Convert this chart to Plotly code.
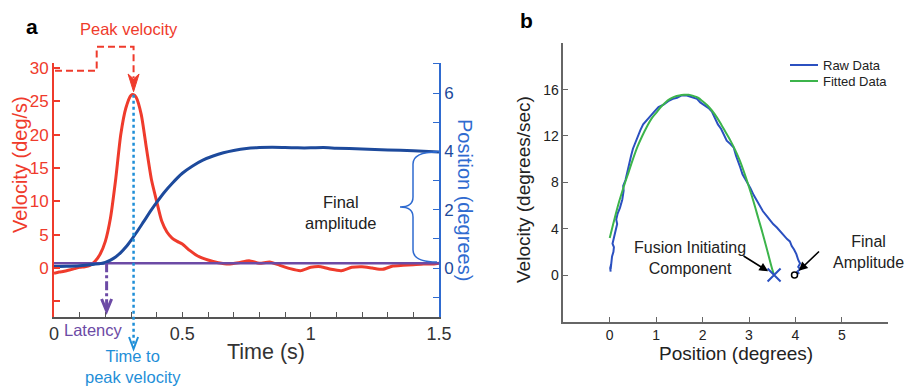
import plotly.graph_objects as go

# ---------------- data ----------------
# Panel a : velocity trace (deg/s) vs time (s)
T_VEL = [0.00, 0.02, 0.04, 0.06, 0.08, 0.10, 0.12, 0.14, 0.16, 0.18, 0.20, 0.22, 0.24, 0.26,
         0.28, 0.30, 0.31, 0.32, 0.34, 0.36, 0.38, 0.40, 0.42, 0.44, 0.46, 0.48, 0.50, 0.53,
         0.56, 0.60, 0.64, 0.68, 0.72, 0.76, 0.80, 0.84, 0.88, 0.92, 0.96, 1.00, 1.04, 1.08,
         1.12, 1.16, 1.20, 1.24, 1.28, 1.32, 1.36, 1.40, 1.44, 1.48, 1.50]
VELOCITY = [-0.8, -0.6, -0.5, -0.3, -0.1, 0.1, 0.2, 0.4, 1.0, 2.1, 4.0, 7.5, 13.2, 20.0,
            24.0, 25.9, 26.0, 25.6, 23.0, 18.0, 13.2, 10.0, 7.0, 5.4, 4.5, 4.0, 3.6, 2.6,
            1.8, 1.2, 0.8, 0.6, 0.8, 1.1, 0.7, 0.9, 0.4, -0.1, -0.4, 0.1, 0.2, -0.2,
            -0.4, 0.1, 0.2, 0.0, -0.2, 0.3, 0.4, 0.5, 0.6, 0.6, 0.7]
# Panel a : position trace (degrees) vs time (s)
T_POS = [0.00, 0.05, 0.10, 0.15, 0.18, 0.20, 0.22, 0.24, 0.26, 0.28, 0.30, 0.32, 0.35, 0.38,
         0.40, 0.43, 0.46, 0.50, 0.54, 0.58, 0.62, 0.66, 0.70, 0.75, 0.80, 0.85, 0.90, 0.95,
         1.00, 1.05, 1.10, 1.20, 1.30, 1.40, 1.50]
POSITION = [0.05, 0.06, 0.08, 0.12, 0.15, 0.19, 0.27, 0.38, 0.53, 0.72, 0.95, 1.2, 1.6, 2.0,
            2.25, 2.6, 2.9, 3.25, 3.5, 3.7, 3.84, 3.95, 4.03, 4.1, 4.13, 4.14, 4.13, 4.12,
            4.12, 4.13, 4.11, 4.08, 4.05, 4.02, 3.98]
THRESHOLD_VEL = 0.7      # latency threshold line (deg/s)
LATENCY_T = 0.205        # s
TIME_SPAN = [0.0, 1.5]

A_X_TICKS = [0, 0.5, 1, 1.5]
A_X_LABELS = ["0", "0.5", "1", "1.5"]
A_V_TICKS = [-5, 0, 5, 10, 15, 20, 25, 30]
A_V_LABELS = ["", "0", "5", "10", "15", "20", "25", "30"]
A_P_TICKS = [0, 2, 4, 6]

# Panel b : phase plane
RAW_POS = [0.02, 0.01, 0.03, 0.02, 0.03, 0.05, 0.08, 0.09, 0.06, 0.10, 0.13, 0.16, 0.14, 0.17,
           0.22, 0.27, 0.30, 0.29, 0.34, 0.38, 0.42, 0.46, 0.50, 0.52, 0.57, 0.62, 0.66, 0.72,
           0.80, 0.88, 0.96, 1.05, 1.16, 1.26, 1.36, 1.45, 1.55, 1.66, 1.75, 1.82, 1.88, 1.95,
           2.05, 2.13, 2.20, 2.26, 2.33, 2.40, 2.45, 2.52, 2.60, 2.67, 2.72, 2.78, 2.81, 2.86,
           2.92, 2.97, 3.03, 3.10, 3.17, 3.24, 3.30, 3.38, 3.45, 3.52, 3.60, 3.68, 3.75, 3.82,
           3.88, 3.92, 3.97, 4.02, 4.06, 4.10, 4.06, 4.10, 4.04, 4.08]
RAW_VEL = [0.3, 0.6, 0.9, 0.5, 1.1, 1.6, 2.0, 2.4, 2.7, 3.3, 3.8, 4.4, 4.8, 5.3,
           5.8, 6.5, 7.3, 7.7, 8.2, 9.0, 9.6, 10.3, 10.9, 11.1, 11.6, 12.2, 12.5, 13.0,
           13.4, 13.7, 14.1, 14.5, 14.7, 15.0, 15.2, 15.3, 15.5, 15.5, 15.4, 15.3, 15.2, 14.9,
           14.6, 14.4, 14.1, 13.6, 13.0, 12.6, 12.2, 11.6, 11.3, 11.0, 10.3, 9.7, 9.3, 8.7,
           8.3, 7.9, 7.5, 6.9, 6.4, 5.9, 5.5, 5.1, 4.7, 4.4, 4.1, 3.7, 3.4, 3.1,
           2.9, 2.5, 2.2, 1.8, 1.3, 1.0, 0.7, 0.5, 0.3, 0.1]
FIT_POS = [0.0, 0.1, 0.2, 0.3, 0.4, 0.5, 0.6, 0.7, 0.8, 0.9, 1.0, 1.1, 1.2, 1.3, 1.4, 1.5,
           1.6, 1.7, 1.8, 1.9, 2.0, 2.1, 2.2, 2.3, 2.4, 2.5, 2.6, 2.7, 2.8, 2.9, 3.0, 3.1,
           3.2, 3.3, 3.4, 3.5, 3.54]
FIT_VEL = [3.2, 4.8, 6.3, 7.6, 8.8, 10.0, 11.1, 12.0, 12.8, 13.5, 14.0, 14.5, 14.9, 15.2, 15.4, 15.5,
           15.55, 15.55, 15.45, 15.3, 15.0, 14.65, 14.2, 13.65, 13.0, 12.3, 11.6, 10.8, 9.9, 8.8, 7.6, 6.3,
           4.9, 3.5, 2.0, 0.5, 0.0]
FIC_POS, FIC_VEL = 3.54, 0.0        # fusion initiating component end
FINAL_POS, FINAL_VEL = 3.98, 0.0    # final amplitude
B_X_TICKS = [0, 1, 2, 3, 4, 5, 6]
B_X_LABELS = ["0", "1", "2", "3", "4", "5", ""]
B_Y_TICKS = [0, 4, 8, 12, 16, 20]
B_Y_LABELS = ["0", "4", "8", "12", "16", ""]
LEGEND_NAMES = ["Raw Data", "Fitted Data"]

# ---------------- styling / layout geometry ----------------
W, H = 908, 387
FONT = "Liberation Sans, Arial, sans-serif"
RED = "#ef3b2c"
NAVY = "#1d4a9c"
RBLUE = "#2f6bd0"
PURPLE = "#6c4aa5"
LBLUE = "#1f8fd8"
RAWC = "#2b50c0"
FITC = "#3cb44b"
GREY = "#555555"

# panel a plot box (px)
AL, AR, AT, AB = 54, 439, 62.7, 317
V_RANGE = [-7.35, 30.8]
P_RANGE = [-1.68, 7.04]
# panel b plot box (px)
BL, BR, BT, BB = 563.3, 888.3, 43.3, 321.7
BX_RANGE = [-1.0, 6.0]
BY_RANGE = [-4.03, 20.0]


def px(x):
    return x / W


def py(y):
    return 1 - y / H


def t_px(t):
    return AL + (t - TIME_SPAN[0]) / (TIME_SPAN[1] - TIME_SPAN[0]) * (AR - AL)


def v_py(v):
    return AB - (v - V_RANGE[0]) / (V_RANGE[1] - V_RANGE[0]) * (AB - AT)


def p_py(p):
    return AB - (p - P_RANGE[0]) / (P_RANGE[1] - P_RANGE[0]) * (AB - AT)


def path(pts, close=False):
    s = "M " + " L ".join(f"{px(x):.5f},{py(y):.5f}" for x, y in pts)
    return s + (" Z" if close else "")


fig = go.Figure()

# ---- panel a traces ----
fig.add_trace(go.Scatter(x=T_VEL, y=VELOCITY, mode="lines", xaxis="x", yaxis="y",
                         line=dict(color=RED, width=3, shape="spline", smoothing=0.6),
                         showlegend=False, hoverinfo="skip"))
fig.add_trace(go.Scatter(x=TIME_SPAN, y=[THRESHOLD_VEL, THRESHOLD_VEL], mode="lines",
                         xaxis="x", yaxis="y", line=dict(color=PURPLE, width=2.5),
                         showlegend=False, hoverinfo="skip"))
fig.add_trace(go.Scatter(x=T_POS, y=POSITION, mode="lines", xaxis="x", yaxis="y2",
                         line=dict(color=NAVY, width=3, shape="spline", smoothing=0.6),
                         showlegend=False, hoverinfo="skip"))

# ---- panel b traces ----
fig.add_trace(go.Scatter(x=RAW_POS, y=RAW_VEL, mode="lines", xaxis="x2", yaxis="y3",
                         name=LEGEND_NAMES[0], line=dict(color=RAWC, width=2), showlegend=False))
fig.add_trace(go.Scatter(x=FIT_POS, y=FIT_VEL, mode="lines", xaxis="x2", yaxis="y3",
                         name=LEGEND_NAMES[1], line=dict(color=FITC, width=2, shape="spline"),
                         showlegend=False))
fig.add_trace(go.Scatter(x=[FIC_POS], y=[FIC_VEL], mode="markers", xaxis="x2", yaxis="y3",
                         marker=dict(symbol="x-thin-open", size=13, color=RAWC,
                                     line=dict(color=RAWC, width=2)),
                         showlegend=False, hoverinfo="skip", cliponaxis=False))
fig.add_trace(go.Scatter(x=[FINAL_POS], y=[FINAL_VEL], mode="markers", xaxis="x2", yaxis="y3",
                         marker=dict(symbol="circle-open", size=6, color="black",
                                     line=dict(color="black", width=1.5)),
                         showlegend=False, hoverinfo="skip", cliponaxis=False))

# ---- decorations for panel a ----
i_pk = max(range(len(VELOCITY)), key=lambda i: VELOCITY[i])
t_pk, v_pk = T_VEL[i_pk], VELOCITY[i_pk]
xpk = t_px(t_pk)
ypk = v_py(v_pk)

shapes = []
# peak velocity dashed elbow
shapes.append(dict(type="path", xref="paper", yref="paper", layer="above",
                   path=path([(AL + 1, 70.7), (96.7, 70.7), (96.7, 46.7), (xpk, 46.7), (xpk, 78)]),
                   line=dict(color=RED, width=2, dash="7px,4px")))
shapes.append(dict(type="path", xref="paper", yref="paper", layer="above",
                   path=path([(xpk - 5.5, 74), (xpk, ypk - 3), (xpk + 5.5, 74), (xpk, 79)], close=True),
                   fillcolor=RED, line=dict(color=RED, width=1)))
# time to peak velocity dotted line + arrow head
shapes.append(dict(type="line", xref="paper", yref="paper", layer="above",
                   x0=px(xpk), x1=px(xpk), y0=py(ypk), y1=py(347),
                   line=dict(color=LBLUE, width=2.5, dash="dot")))
shapes.append(dict(type="path", xref="paper", yref="paper", layer="above",
                   path=path([(xpk - 4.5, 337), (xpk, 349), (xpk + 4.5, 337)]),
                   line=dict(color=LBLUE, width=2)))
# latency dash-dot arrow
xl = t_px(LATENCY_T)
yth = v_py(THRESHOLD_VEL)
shapes.append(dict(type="line", xref="paper", yref="paper", layer="above",
                   x0=px(xl), x1=px(xl), y0=py(yth), y1=py(309),
                   line=dict(color=PURPLE, width=3, dash="dashdot")))
shapes.append(dict(type="path", xref="paper", yref="paper", layer="above",
                   path=path([(xl - 5, 299), (xl, 311), (xl + 5, 299)]),
                   line=dict(color=PURPLE, width=3)))
# final amplitude brace
ytop = p_py(POSITION[-1])
ybot = 262
ymid = (ytop + ybot) / 2
bx, tipx, endx = 413, 400, AR - 2
brace = (f"M {px(endx):.5f},{py(ytop):.5f} Q {px(bx):.5f},{py(ytop):.5f} {px(bx):.5f},{py(ytop + 12):.5f} "
         f"L {px(bx):.5f},{py(ymid - 10):.5f} Q {px(bx):.5f},{py(ymid):.5f} {px(tipx):.5f},{py(ymid):.5f} "
         f"Q {px(bx):.5f},{py(ymid):.5f} {px(bx):.5f},{py(ymid + 10):.5f} "
         f"L {px(bx):.5f},{py(ybot - 12):.5f} Q {px(bx):.5f},{py(ybot):.5f} {px(endx):.5f},{py(ybot):.5f}")
shapes.append(dict(type="path", xref="paper", yref="paper", layer="above", path=brace,
                   line=dict(color=RBLUE, width=1.5)))
# manual legend for panel b
for k, col in enumerate([RAWC, FITC]):
    yy = 65 + 16 * k
    shapes.append(dict(type="line", xref="paper", yref="paper", layer="above",
                       x0=px(790), x1=px(818), y0=py(yy), y1=py(yy),
                       line=dict(color=col, width=2)))


def txt(x, y, s, size=16, color="black", angle=0, bold=False, xanchor="center"):
    return dict(x=px(x), y=py(y), xref="paper", yref="paper", text=(f"<b>{s}</b>" if bold else s),
                showarrow=False, xanchor=xanchor, yanchor="middle", textangle=angle,
                font=dict(family=FONT, size=size, color=color))


annotations = [
    txt(32, 26, "a", 21, "black", bold=True),
    txt(526, 20, "b", 21, "black", bold=True),
    txt(129, 29, "Peak velocity", 16.5, RED),
    txt(93, 330, "Latency", 16.5, PURPLE),
    txt(133, 366, "Time to<br>peak velocity", 16.5, LBLUE),
    txt(341, 212, "Final<br>amplitude", 16.5, "#222"),
    txt(266, 352, "Time (s)", 21.5, "#333"),
    txt(20, 165, "Velocity (deg/s)", 20, RED, angle=-90),
    txt(465, 200, "Position (degrees)", 20, RBLUE, angle=90),
    txt(523, 190, "Velocity (degrees/sec)", 19, "#222", angle=-90),
    txt(736, 353, "Position (degrees)", 19, "#222"),
    txt(690, 258, "Fusion Initiating<br>Component", 16, "#222"),
    txt(868, 252, "Final<br>Amplitude", 16, "#222"),
    txt(821, 65, LEGEND_NAMES[0], 13, "#222", xanchor="left"),
    txt(821, 81, LEGEND_NAMES[1], 13, "#222", xanchor="left"),
    dict(x=FIC_POS, y=FIC_VEL, xref="x2", yref="y3", ax=-32, ay=-20, text="", showarrow=True,
         arrowhead=2, arrowsize=1.1, arrowwidth=1.6, arrowcolor="black", standoff=7),
    dict(x=FINAL_POS, y=FINAL_VEL, xref="x2", yref="y3", ax=26, ay=-25, text="", showarrow=True,
         arrowhead=2, arrowsize=1.1, arrowwidth=1.6, arrowcolor="black", standoff=6),
]

fig.update_layout(
    template="none",
    width=W, height=H, margin=dict(l=0, r=0, t=0, b=0, autoexpand=False),
    paper_bgcolor="white", plot_bgcolor="white",
    font=dict(family=FONT),
    showlegend=False,
    xaxis=dict(domain=[px(AL), px(AR)], range=TIME_SPAN, anchor="y", automargin=False,
               showline=True, linecolor=GREY, linewidth=1.5, mirror=False,
               ticks="inside", ticklen=5, tickcolor=GREY, tickwidth=1,
               tickvals=A_X_TICKS, ticktext=A_X_LABELS,
               minor=dict(dtick=0.1, tick0=0, ticks="inside", ticklen=5, tickcolor=GREY),
               tickfont=dict(size=18, color="#333"), showgrid=False, zeroline=False),
    yaxis=dict(domain=[py(AB), py(AT)], range=V_RANGE, anchor="x", automargin=False,
               showline=True, linecolor=RED, linewidth=2,
               ticks="inside", ticklen=6, tickcolor=RED, tickwidth=1.5,
               tickvals=A_V_TICKS, ticktext=A_V_LABELS,
               tickfont=dict(size=17, color=RED), showgrid=False, zeroline=False),
    yaxis2=dict(range=P_RANGE, overlaying="y", side="right", anchor="x", automargin=False,
                showline=True, linecolor=RBLUE, linewidth=1.5,
                ticks="inside", ticklen=6, tickcolor=RBLUE,
                tickvals=A_P_TICKS,
                minor=dict(dtick=1, tick0=0, ticks="inside", ticklen=6, tickcolor=RBLUE),
                tickfont=dict(size=17, color=NAVY), showgrid=False, zeroline=False),
    xaxis2=dict(domain=[px(BL), px(BR)], range=BX_RANGE, anchor="y3", automargin=False,
                showline=True, linecolor="#666", linewidth=1.5,
                ticks="inside", ticklen=5, tickcolor="#666",
                tickvals=B_X_TICKS, ticktext=B_X_LABELS,
                tickfont=dict(size=14, color="#222"), showgrid=False, zeroline=False),
    yaxis3=dict(domain=[py(BB), py(BT)], range=BY_RANGE, anchor="x2", automargin=False,
                showline=True, linecolor="#666", linewidth=1.5,
                ticks="inside", ticklen=5, tickcolor="#666",
                tickvals=B_Y_TICKS, ticktext=B_Y_LABELS,
                tickfont=dict(size=14, color="#222"), showgrid=False, zeroline=False),
    shapes=shapes,
    annotations=annotations,
)

fig.write_html("out.html", config={"displayModeBar": False},
               post_script="document.body.style.margin='0px';")
